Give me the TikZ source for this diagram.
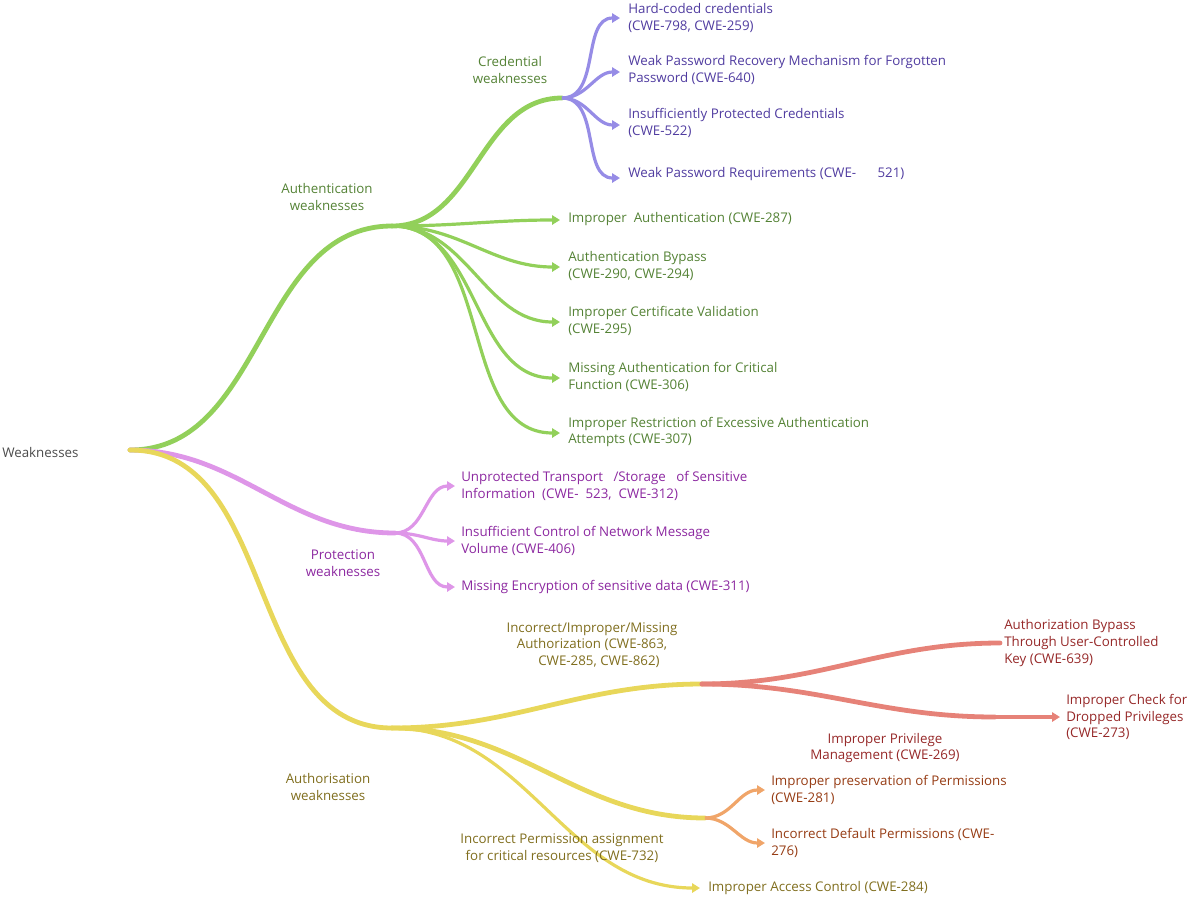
\documentclass[tikz,border=0pt]{standalone}
\usepackage{fontspec}
\setmainfont{Open Sans}
\usetikzlibrary{arrows.meta}
\definecolor{gl}{RGB}{146,208,90}\definecolor{gt}{RGB}{84,130,53}
\definecolor{pl}{RGB}{150,140,230}\definecolor{pt}{RGB}{80,60,160}
\definecolor{kl}{RGB}{222,150,232}\definecolor{kt}{RGB}{140,40,160}
\definecolor{yl}{RGB}{232,215,90}\definecolor{yt}{RGB}{128,110,30}
\definecolor{rl}{RGB}{230,130,120}\definecolor{rt}{RGB}{150,40,40}
\definecolor{ol}{RGB}{240,165,105}\definecolor{ot}{RGB}{150,60,20}
\tikzset{
 lab/.style={font=\fontsize{10}{12.5}\selectfont,align=left,anchor=west,inner sep=0pt},
 clab/.style={font=\fontsize{10}{12.5}\selectfont,align=center,inner sep=0pt},
 main/.style={line width=3.6pt,line cap=round},
 leaf/.style={line width=2.4pt,-{Triangle[length=6pt,width=7pt]}},
 cv/.style={out=0,in=180}
}
\begin{document}
\begin{tikzpicture}[x=0.75pt,y=-0.75pt]
\useasboundingbox (0,0) rectangle (1200,900);
\node[lab,text=black!70] (w) at (2,452) {Weaknesses};
\coordinate (r) at (130,450);
\coordinate (ah) at (392,226);
\coordinate (ch) at (562,98);
\coordinate (ph) at (395,533);
\coordinate (yh) at (392,728);
\coordinate (ih) at (702,684);
\coordinate (oh) at (705,818);
\coordinate (dh) at (995,717);
% main branches
\draw[main,gl] (r) to[cv] (ah);
\draw[main,gl] (ah) to[cv] (ch);
\draw[main,kl] (r) to[cv] (ph);
\draw[main,yl] (r) to[cv] (yh);
\draw[main,yl] (yh) to[cv] (ih);
\draw[main,rl] (ih) to[cv] (dh);
\node[clab,text=gt] (al) at (327,197) {Authentication\\weaknesses};
\node[clab,text=gt] (cl) at (510,70) {Credential\\weaknesses};
\node[clab,text=kt] (pl2) at (343,563) {Protection\\weaknesses};
\node[clab,text=yt] (yl2) at (328,787) {Authorisation\\weaknesses};
% purple leaves
\foreach \y/\n in {18/p1,72/p2,125/p3,178/p4}{
 \coordinate (\n) at (620,\y); \draw[leaf,pl] (ch) to[cv] (\n);}
\node[lab,text=pt] at (628,18) {Hard-coded credentials\\(CWE-798, CWE-259)};
\node[lab,text=pt] at (628,70) {Weak Password Recovery Mechanism for Forgotten\\Password (CWE-640)};
\node[lab,text=pt] at (628,123) {Insufficiently Protected Credentials\\(CWE-522)};
\node[lab,text=pt] at (628,174) {Weak Password Requirements (CWE-\hspace{1.6em}521)};
% green leaves
\foreach \y/\n in {220/g1,267/g2,322/g3,378/g4,433/g5}{
 \coordinate (\n) at (560,\y); \draw[leaf,gl] (ah) to[cv] (\n);}
\node[lab,text=gt] at (568,219) {Improper\ \ Authentication (CWE-287)};
\node[lab,text=gt] at (568,266) {Authentication Bypass\\(CWE-290, CWE-294)};
\node[lab,text=gt] at (568,321) {Improper Certificate Validation\\(CWE-295)};
\node[lab,text=gt] at (568,377) {Missing Authentication for Critical\\Function (CWE-306)};
\node[lab,text=gt] at (568,432) {Improper Restriction of Excessive Authentication\\Attempts (CWE-307)};
% pink leaves
\foreach \y/\n in {486/k1,541/k2,587/k3}{
 \coordinate (\n) at (455,\y); \draw[leaf,kl] (ph) to[cv] (\n);}
\node[lab,text=kt] at (461,486) {Unprotected Transport\ \ \ /Storage\ \ \ of Sensitive\\Information\ \ (CWE-\ \ 523,\ \ CWE-312)};
\node[lab,text=kt] at (461,541) {Insufficient Control of Network Message\\Volume (CWE-406)};
\node[lab,text=kt] at (461,587) {Missing Encryption of sensitive data (CWE-311)};
% yellow leaves
\coordinate (y2) at (700,818); \coordinate (y3) at (700,888);
\draw[main,yl] (yh) to[cv] (oh);
\draw[leaf,yl] (yh) to[cv] (y3);
\node[clab,text=yt] at (592,645) {Incorrect/Improper/Missing\\Authorization (CWE-863,\\\ \ \ \ CWE-285, CWE-862)};
\node[clab,text=yt] at (562,848) {Incorrect Permission assignment\\for critical resources (CWE-732)};
\node[lab,text=yt] at (708,888) {Improper Access Control (CWE-284)};
% red
\coordinate (r1) at (1000,643); \coordinate (r2) at (1060,717);
\draw[main,rl] (ih) to[cv] (r1);
\draw[leaf,rl] (dh) -- (r2);
\node[lab,text=rt] at (1004,643) {Authorization Bypass\\Through User-Controlled\\Key (CWE-639)};
\node[lab,text=rt] at (1066,717) {Improper Check for\\Dropped Privileges\\(CWE-273)};
\node[clab,text=rt] at (885,748) {Improper Privilege\\Management (CWE-269)};
% orange
\coordinate (o1) at (765,790); \coordinate (o2) at (765,843);
\draw[leaf,ol] (oh) to[cv] (o1);
\draw[leaf,ol] (oh) to[cv] (o2);
\node[lab,text=ot] at (771,790) {Improper preservation of Permissions\\(CWE-281)};
\node[lab,text=ot] at (771,843) {Incorrect Default Permissions (CWE-\\276)};
\end{tikzpicture}
\end{document}
